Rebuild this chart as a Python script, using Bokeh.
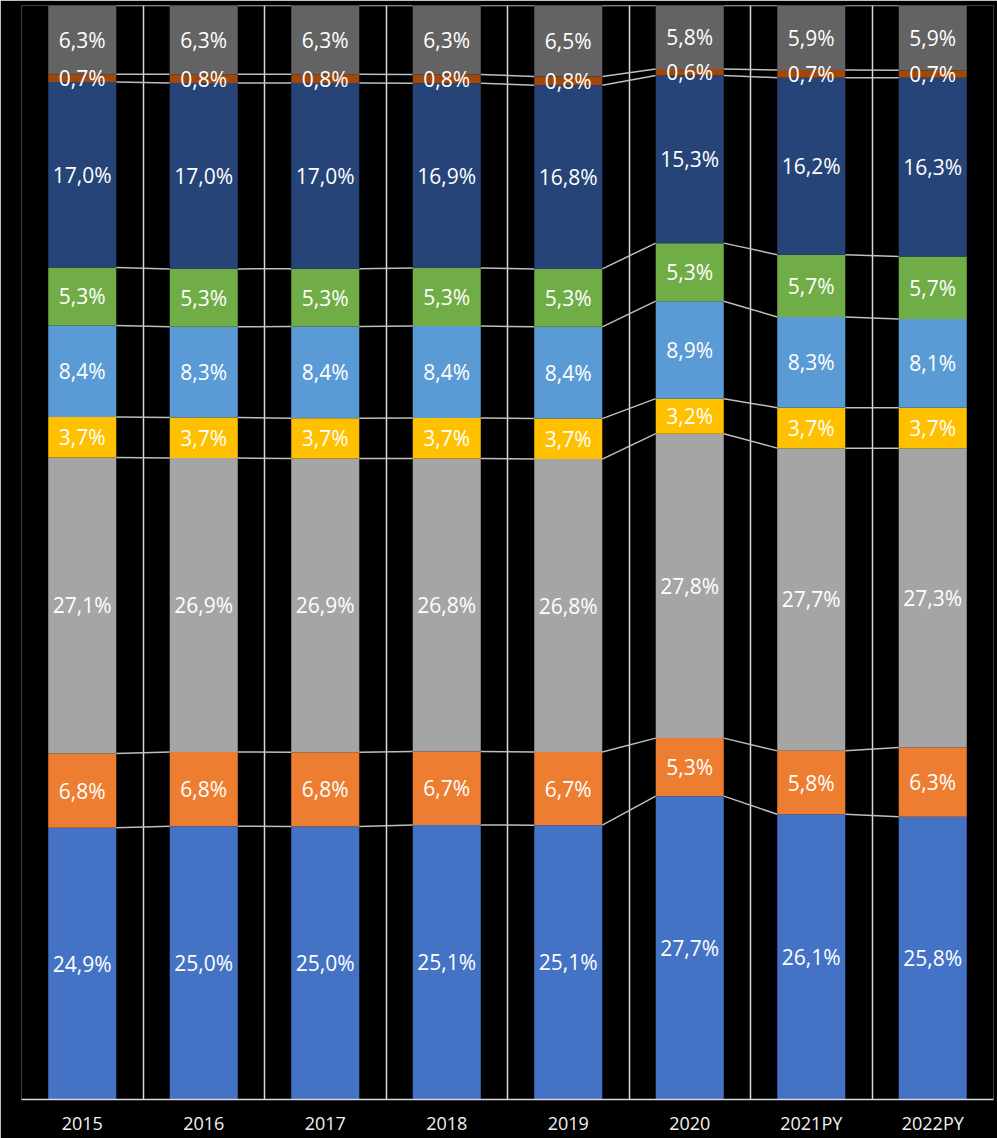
import numpy as np
from bokeh.plotting import figure
from bokeh.models import ColumnDataSource, FixedTicker, Range1d
from bokeh.core.properties import value
from bokeh.embed import file_html
from bokeh.resources import INLINE

categories = ["2015", "2016", "2017", "2018", "2019", "2020", "2021PY", "2022PY"]

# series, bottom to top
s1 = [24.9, 25.0, 25.0, 25.1, 25.1, 27.7, 26.1, 25.8]
s2 = [6.8, 6.8, 6.8, 6.7, 6.7, 5.3, 5.8, 6.3]
s3 = [27.1, 26.9, 26.9, 26.8, 26.8, 27.8, 27.7, 27.3]
s4 = [3.7, 3.7, 3.7, 3.7, 3.7, 3.2, 3.7, 3.7]
s5 = [8.4, 8.3, 8.4, 8.4, 8.4, 8.9, 8.3, 8.1]
s6 = [5.3, 5.3, 5.3, 5.3, 5.3, 5.3, 5.7, 5.7]
s7 = [17.0, 17.0, 17.0, 16.9, 16.8, 15.3, 16.2, 16.3]
s8 = [0.7, 0.8, 0.8, 0.8, 0.8, 0.6, 0.7, 0.7]
s9 = [6.3, 6.3, 6.3, 6.3, 6.5, 5.8, 5.9, 5.9]

series = [s1, s2, s3, s4, s5, s6, s7, s8, s9]
series_names = ["s1", "s2", "s3", "s4", "s5", "s6", "s7", "s8", "s9"]
colors = ["#4472C4", "#ED7D31", "#A5A5A5", "#FFC000", "#5B9BD5",
          "#70AD47", "#264478", "#9E480E", "#636363"]

BAR_W = 0.56

vals = np.array(series, dtype=float)           # (9, 8)
totals = vals.sum(axis=0)
frac = vals / totals                            # percent-stacked
cum_top = np.cumsum(frac, axis=0)
cum_bot = cum_top - frac
xs = np.arange(len(categories)) + 0.5

data = {"x": xs}
for name, f in zip(series_names, frac):
    data[name] = f
src = ColumnDataSource(data)

p = figure(width=997, height=1138, output_backend="svg", toolbar_location=None,
           x_range=Range1d(0, len(categories)), y_range=Range1d(0, 1),
           min_border_left=21, min_border_right=4, min_border_top=5,
           min_border_bottom=39)
p.background_fill_color = "black"
p.border_fill_color = "black"
p.outline_line_color = None

# series lines between bars
sx0, sx1, sy0, sy1 = [], [], [], []
for k in range(len(series)):
    for i in range(len(categories) - 1):
        sx0.append(xs[i] + BAR_W / 2)
        sx1.append(xs[i + 1] - BAR_W / 2)
        sy0.append(cum_top[k][i])
        sy1.append(cum_top[k][i + 1])
p.segment(x0=sx0, y0=sy0, x1=sx1, y1=sy1, line_color="#BFBFBF", line_width=1.5)

p.vbar_stack(series_names, x="x", width=BAR_W, source=src, color=colors,
             line_color=None)

# labels
lx, ly, lt = [], [], []
for k in range(len(series)):
    for i in range(len(categories)):
        lx.append(xs[i])
        ly.append((cum_top[k][i] + cum_bot[k][i]) / 2)
        lt.append(f"{series[k][i]:.1f}".replace(".", ",") + "%")
p.text(x=lx, y=ly, text=lt, text_align="center", text_baseline="middle",
       text_color="white", text_font=value("Open Sans"), text_font_size="21px")

p.yaxis.visible = False
p.ygrid.grid_line_color = None

p.xaxis.ticker = FixedTicker(ticks=list(xs))
p.xaxis.major_label_overrides = {float(x): c for x, c in zip(xs, categories)}
p.xaxis.axis_line_color = "#D9D9D9"
p.xaxis.axis_line_width = 1.5
p.xaxis.major_tick_line_color = None
p.xaxis.minor_tick_line_color = None
p.xaxis.major_tick_out = 0
p.xaxis.major_tick_in = 0
p.xaxis.major_label_text_color = "#F2F2F2"
p.xaxis.major_label_text_font = "Open Sans"
p.xaxis.major_label_text_font_size = "18px"
p.xaxis.major_label_standoff = 11

p.xgrid.ticker = FixedTicker(ticks=list(range(len(categories) + 1)))
p.xgrid.grid_line_color = "#D9D9D9"
p.xgrid.grid_line_width = 1.5

open("out.html", "w").write(file_html(p, INLINE))
